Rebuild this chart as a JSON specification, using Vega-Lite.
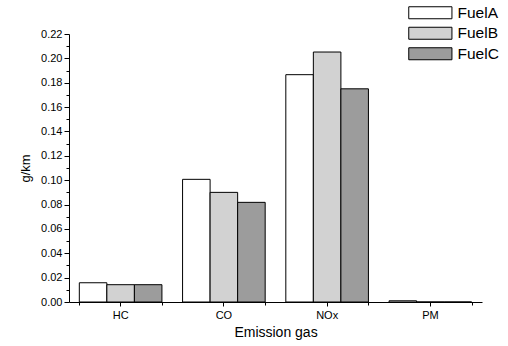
{
  "$schema": "https://vega.github.io/schema/vega-lite/v6.json",
  "width": 413,
  "height": 268,
  "autosize": {"type": "none"},
  "padding": {"left": 69, "top": 34, "right": 26, "bottom": 44},
  "background": "white",
  "config": {
    "font": "Liberation Sans",
    "view": {"stroke": null},
    "axis": {"grid": false, "domainColor": "black", "tickColor": "black", "labelColor": "black", "titleColor": "black", "titleFontWeight": "normal"},
    "legend": {"orient": "none", "legendX": 338, "legendY": -29}
  },
  "data": {
    "values": [
      {"gas": "HC", "fuel": "FuelA", "value": 0.0158},
      {"gas": "HC", "fuel": "FuelB", "value": 0.0142},
      {"gas": "HC", "fuel": "FuelC", "value": 0.0142},
      {"gas": "CO", "fuel": "FuelA", "value": 0.1007},
      {"gas": "CO", "fuel": "FuelB", "value": 0.0900},
      {"gas": "CO", "fuel": "FuelC", "value": 0.0818},
      {"gas": "NOx", "fuel": "FuelA", "value": 0.1866},
      {"gas": "NOx", "fuel": "FuelB", "value": 0.2052},
      {"gas": "NOx", "fuel": "FuelC", "value": 0.1750},
      {"gas": "PM", "fuel": "FuelA", "value": 0.0010},
      {"gas": "PM", "fuel": "FuelB", "value": 0.0},
      {"gas": "PM", "fuel": "FuelC", "value": 0.0}
    ]
  },
  "layer": [
    {
      "mark": {"type": "bar", "stroke": "black", "strokeWidth": 1},
      "encoding": {
        "x": {
          "field": "gas", "type": "nominal", "sort": ["HC", "CO", "NOx", "PM"],
          "scale": {"paddingInner": 0.2, "paddingOuter": 0.1},
          "axis": {"orient": "bottom", "labelAngle": 0, "labelFontSize": 11, "tickSize": 4, "labelPadding": 3, "title": "Emission gas", "titleFontSize": 14, "titlePadding": 5}
        },
        "xOffset": {"field": "fuel", "type": "nominal", "scale": {"paddingInner": 0, "paddingOuter": 0}},
        "y": {
          "field": "value", "type": "quantitative",
          "scale": {"domain": [0, 0.22], "nice": false, "zero": true},
          "axis": {"orient": "left", "values": [0, 0.02, 0.04, 0.06, 0.08, 0.1, 0.12, 0.14, 0.16, 0.18, 0.2, 0.22], "format": ".2f", "labelFontSize": 11, "tickSize": 5, "labelPadding": 2, "title": "g/km", "titleFontSize": 13, "titlePadding": 8}
        },
        "color": {
          "field": "fuel", "type": "nominal",
          "scale": {"domain": ["FuelA", "FuelB", "FuelC"], "range": ["#ffffff", "#d2d2d2", "#9c9c9c"]},
          "legend": {"title": null, "symbolType": "M-1,-1H6.2V1H-1Z", "symbolSize": 144, "symbolStrokeColor": "black", "symbolStrokeWidth": 1, "symbolOpacity": 1, "labelFontSize": 15.5, "labelColor": "black", "labelOffset": 35, "rowPadding": 2.5, "padding": 0}
        }
      }
    },
    {
      "mark": {"type": "bar", "opacity": 0},
      "encoding": {
        "x": {
          "field": "gas", "type": "nominal", "sort": ["HC", "CO", "NOx", "PM"],
          "axis": {"orient": "bottom", "tickBand": "extent", "labels": false, "domain": false, "title": null, "tickSize": 3}
        },
        "y": {
          "field": "value", "type": "quantitative",
          "axis": {"orient": "left", "values": [0.01, 0.03, 0.05, 0.07, 0.09, 0.11, 0.13, 0.15, 0.17, 0.19, 0.21], "labels": false, "domain": false, "title": null, "tickSize": 3}
        }
      }
    }
  ],
  "resolve": {"axis": {"x": "independent", "y": "independent"}}
}
